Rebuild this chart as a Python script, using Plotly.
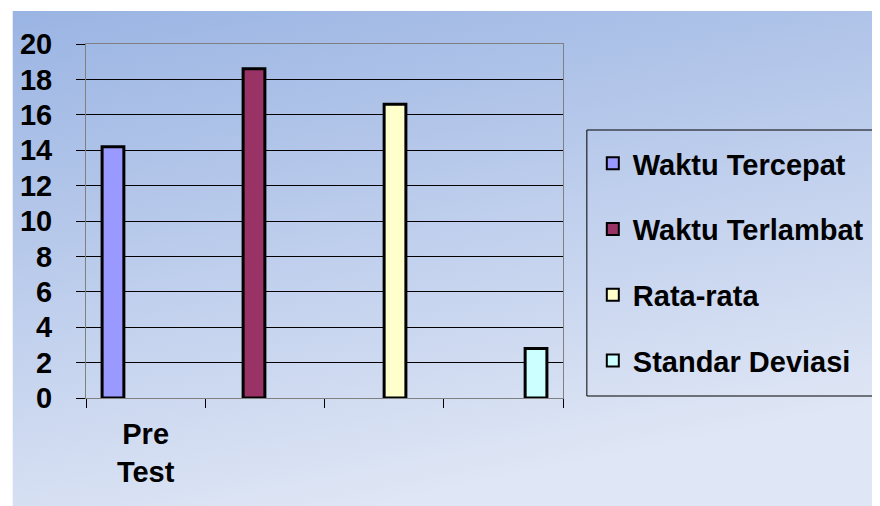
import plotly.graph_objects as go
import urllib.parse

categories = ["Pre<br>Test", " ", "  ", "   "]
series_names = ["Waktu Tercepat", "Waktu Terlambat", "Rata-rata", "Standar Deviasi"]
series_values = [14.2, 18.6, 16.6, 2.8]
series_colors = ["#9999FF", "#993366", "#FFFFCC", "#CCFFFF"]
y_ticks = list(range(0, 21, 2))

W, H = 880, 506
OFF = 8  # page offset of the figure (body margin)
# plot area in page pixels: left 83, top 44, right 563, bottom 398
L = 83 - OFF
T = 44 - OFF
R = W - (563 - OFF)
B = H - (398 - OFF)
pw, ph = W - L - R, H - T - B

def px_x(p):
    return (p - OFF - L) / pw

def px_y(p):
    return (H - B - (p - OFF)) / ph

fig = go.Figure()
for i, (name, val, col) in enumerate(zip(series_names, series_values, series_colors)):
    ys = [None] * len(categories)
    ys[i] = val
    fig.add_trace(go.Bar(
        x=categories, y=ys, name=name, legendgroup=name,
        marker=dict(color=col, line=dict(color="black", width=3)),
    ))

svg = ('<svg xmlns="http://www.w3.org/2000/svg" width="880" height="506" preserveAspectRatio="none">'
       '<defs><linearGradient id="g" x1="0" y1="0" x2="0.35" y2="1">'
       '<stop offset="0" stop-color="#9AB4E3"/><stop offset="1" stop-color="#DFE6F5"/>'
       '</linearGradient></defs><rect width="880" height="506" fill="url(#g)"/></svg>')
src = "data:image/svg+xml;charset=utf-8," + urllib.parse.quote(svg)

FONT = "Liberation Sans, Arial"

fig.update_layout(
    width=W, height=H,
    margin=dict(l=L, r=R, t=T, b=B),
    paper_bgcolor="white",
    plot_bgcolor="#C0C0C0",
    barmode="group",
    bargap=0.27,
    bargroupgap=0,
    font=dict(family=FONT, size=29, color="black"),
    showlegend=True,
    legend=dict(
        x=px_x(593), y=px_y(138), xanchor="left", yanchor="top",
        bgcolor="rgba(0,0,0,0)", borderwidth=0,
        font=dict(family=FONT, size=29, color="black", weight="bold"),
        tracegroupgap=25, itemsizing="constant",
    ),
    images=[dict(
        source=src, xref="paper", yref="paper",
        x=px_x(9), y=px_y(11), sizex=880 / pw, sizey=506 / ph,
        xanchor="left", yanchor="top", sizing="stretch", layer="below",
    )],
    shapes=[dict(
        type="rect", xref="paper", yref="paper",
        x0=px_x(587), x1=px_x(905), y0=px_y(396), y1=px_y(130),
        line=dict(color="black", width=1), fillcolor="rgba(0,0,0,0)",
    )],
    xaxis=dict(
        type="category", categoryorder="array", categoryarray=categories,
        tickson="boundaries", ticks="outside", ticklen=9, tickcolor="black",
        showgrid=False, showline=True, linecolor="#808080", linewidth=1, mirror=True,
        tickfont=dict(family=FONT, size=29, color="black", weight="bold"),
        ticklabelstandoff=10,
        fixedrange=True,
    ),
    yaxis=dict(
        range=[0, 20], tickvals=y_ticks, ticks="outside", ticklen=9, tickcolor="black",
        showgrid=True, gridcolor="black", gridwidth=1,
        showline=True, linecolor="#808080", linewidth=1, mirror=True,
        zeroline=True, zerolinecolor="black", zerolinewidth=1,
        tickfont=dict(family=FONT, size=29, color="black", weight="bold"),
        ticklabelstandoff=18,
        fixedrange=True,
    ),
)

fig.write_html("out.html")
